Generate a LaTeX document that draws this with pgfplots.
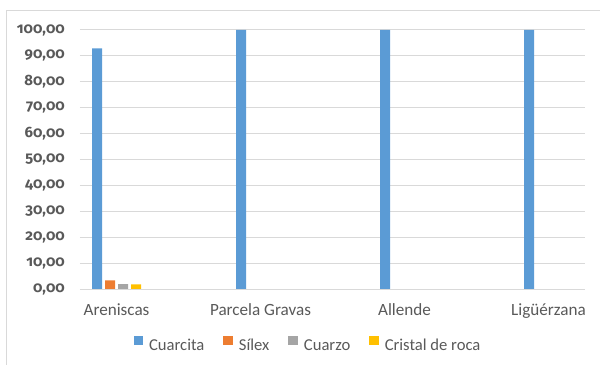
\documentclass[border=0pt]{standalone}
\usepackage{fontspec}
\setmainfont{Carlito}
\newfontfamily\numfont[Numbers=OldStyle]{Fira Sans}
\usepackage{pgfplots}
\pgfplotsset{compat=1.18}

\definecolor{cuarcita}{HTML}{5B9BD5}
\definecolor{silex}{HTML}{ED7D31}
\definecolor{cuarzo}{HTML}{A5A5A5}
\definecolor{cristal}{HTML}{FFC000}
\definecolor{gridc}{HTML}{D9D9D9}
\definecolor{framec}{HTML}{D9D9D9}
\definecolor{textc}{HTML}{595959}

\pgfplotsset{
  sqlegend/.style={legend image code/.code={\fill[##1,draw=none] (0bp,0bp) rectangle (9.5bp,9.5bp);}}
}

\begin{document}
\begin{tikzpicture}
\path[use as bounding box] (0bp,0bp) rectangle (600bp,365bp);
\clip (0bp,0bp) rectangle (600bp,365bp);
% chart area frame
\draw[framec, line width=1bp] (6.5bp,354bp) rectangle (640bp,-20bp);
\begin{axis}[
  at={(80bp,76bp)}, anchor=south west,
  scale only axis, width=505bp, height=259bp,
  xmin=-0.2535, xmax=3.2535, ymin=0, ymax=100,
  ybar=3bp, bar width=10bp,
  xtick={0,1,2,3},
  xticklabels={Areniscas, Parcela Gravas, Allende, Ligüérzana},
  ytick={0,10,...,100},
  yticklabel={\pgfmathprintnumber[fixed, fixed zerofill, precision=2, use comma, assume math mode=true]{\tick}},
  ymajorgrids, grid style={gridc, line width=1bp},
  axis line style={draw=none}, major tick length=0pt,
  yticklabel style={font=\fontsize{15}{15}\selectfont\numfont\bfseries, text=textc, anchor=east, inner sep=0pt, xshift=-15bp},
  xticklabel style={font=\fontsize{17.2}{17.2}\selectfont, text=textc, anchor=base, inner sep=0pt, yshift=-26bp},
  legend columns=4,
  legend style={at={(0.4515,-0.216)}, anchor=center, draw=none, fill=none,
    font=\fontsize{16.7}{16.7}\selectfont, text=textc,
    column sep=0pt,
    /tikz/every odd column/.append style={column sep=4bp},
    /tikz/every even column/.append style={column sep=17bp}},
]
\addplot[fill=cuarcita, draw=none, sqlegend] coordinates {(0,92.94) (1,100) (2,100) (3,100)};
\addlegendentry{Cuarcita}
\addplot[fill=silex, draw=none, sqlegend] coordinates {(0,3.36) (1,0) (2,0) (3,0)};
\addlegendentry{Sílex}
\addplot[fill=cuarzo, draw=none, sqlegend] coordinates {(0,1.87) (1,0) (2,0) (3,0)};
\addlegendentry{Cuarzo}
\addplot[fill=cristal, draw=none, sqlegend] coordinates {(0,1.83) (1,0) (2,0) (3,0)};
\addlegendentry{Cristal de roca}
\end{axis}
\end{tikzpicture}
\end{document}
